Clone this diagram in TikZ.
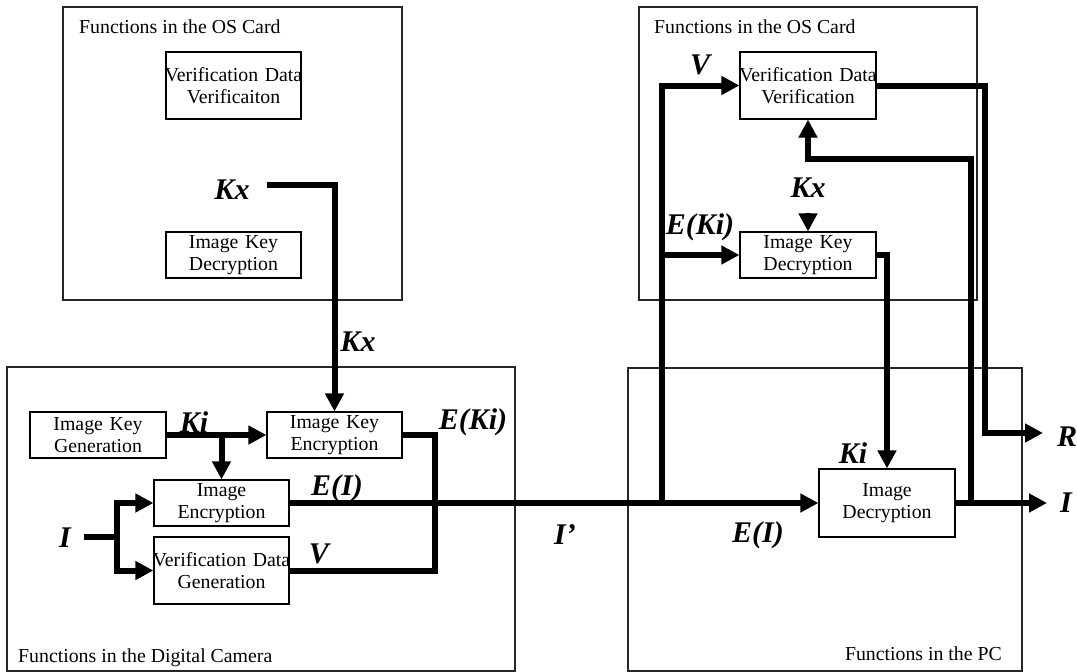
\documentclass[tikz,border=0pt]{standalone}
\usepackage{fontspec}
\setmainfont{Liberation Serif}
\usetikzlibrary{arrows.meta}
\newcommand\fitl[1]{\makebox[0pt]{#1}}
\begin{document}
\begin{tikzpicture}[x=1pt,y=-1pt,
  frame/.style={draw=black!85, line width=1.1pt},
  box/.style 2 args={draw, line width=1.2pt, inner sep=0pt, align=center,
    text width=#1, minimum height=#2,
    font=\fontsize{19.8pt}{22.5pt}\selectfont},
  flab/.style={inner sep=0pt, font=\fontsize{19.8pt}{22.5pt}\selectfont},
  sig/.style={inner sep=0pt, font=\fontsize{30pt}{30pt}\selectfont\bfseries\itshape},
  wire/.style={line width=6pt},
  arr/.style={line width=6pt, -{Triangle[length=18pt,width=18pt]}}]
\useasboundingbox (0,0) rectangle (1077,672);

% frames
\draw[frame] (63,7) rectangle (402,300);
\draw[frame] (7,367) rectangle (515,671);
\draw[frame] (639,7) rectangle (977,300);
\draw[frame] (628,368) rectangle (1022,671);

\node[flab, anchor=base west] (fOSL) at (79,33) {Functions in the OS Card};
\node[flab, anchor=base west] (fOSR) at (654,33) {Functions in the OS Card};
\node[flab, anchor=base west] (fCam) at (18,662) {Functions in the Digital Camera};
\node[flab, anchor=base east] (fPC) at (1002,660) {Functions in the PC};

% boxes: top-left card
\node[box={135pt}{67pt}] (vdvL) at (233.5,85.5) {\fitl{Verification Data}\\\fitl{Verificaiton}};
\node[box={135pt}{46pt}] (ikdL) at (233.5,255) {\fitl{Image Key}\\\fitl{Decryption}};

% camera
\node[box={136pt}{46pt}] (ikg) at (98,435) {\fitl{Image Key}\\\fitl{Generation}};
\node[box={135pt}{46pt}] (ike) at (334.5,435) {\fitl{Image Key}\\\fitl{Encryption}};
\node[box={135pt}{46pt}] (ienc) at (221.5,503) {\fitl{Image}\\\fitl{Encryption}};
\node[box={135pt}{67pt}] (vdg) at (221.5,570.5) {\fitl{Verification Data}\\\fitl{Generation}};

% top-right card
\node[box={136pt}{67pt}] (vdv) at (808,85.5) {\fitl{Verification Data}\\\fitl{Verification}};
\node[box={136pt}{46pt}] (ikd) at (808,255) {\fitl{Image Key}\\\fitl{Decryption}};

% PC
\node[box={136pt}{68pt}] (idec) at (887,503) {\fitl{Image}\\\fitl{Decryption}};

% signal labels
\node[sig] (lKxA) at (232,190) {Kx};
\node[sig] (lKxB) at (358,342) {Kx};
\node[sig] (lKi) at (194,422) {Ki};
\node[sig] (lEKi) at (473,422) {E(Ki)};
\node[sig] (lEI) at (337,488) {E(I)};
\node[sig] (lV) at (319,554) {V};
\node[sig] (lIin) at (65,538) {I};
\node[sig] (lIp) at (565,535) {I’};
\node[sig] (lEI2) at (758,535) {E(I)};
\node[sig] (lV2) at (700,65) {V};
\node[sig] (lEKi2) at (700,227) {E(Ki)};
\node[sig] (lKxC) at (808,188) {Kx};
\node[sig] (lKi2) at (853,453) {Ki};
\node[sig] (lR) at (1067,437) {R};
\node[sig] (lIout) at (1066,503) {I};

% coordinates
\coordinate (kxs) at (267,185);
\coordinate (iin) at (84,537);
\coordinate (isplit) at (117,537);
\coordinate (mux) at (435,503);
\coordinate (jn) at (662,503);
\coordinate (kxr) at (808,213);
\coordinate (fb) at (971,503);
\coordinate (fbk) at (808,159);
\coordinate (rc) at (985,433);
\coordinate (rout) at (1043,433);
\coordinate (iout) at (1047,503);

% connectors
\draw[arr] (kxs) -| (ike.north);
\draw[arr] (ikg.east) -- (ike.west);
\draw[arr] (ienc.north |- ikg.east) -- (ienc.north);
\draw[wire] (iin) -- (isplit);
\draw[arr] (isplit) |- (ienc.west);
\draw[arr] (isplit) |- (vdg.west);
\draw[wire] (ike.east) -| (mux) |- (vdg.east);
\draw[arr] (ienc.east) -- (idec.west);
\draw[arr] (jn) |- (vdv.west);
\draw[arr] (jn |- ikd.west) -- (ikd.west);
\draw[arr] (ikd.east) -| (idec.north);
\draw[arr] (kxr) -- (ikd.north);
\draw[arr] (idec.east) -- (iout);
\draw[arr] (fb) |- (fbk) -- (vdv.south);
\draw[arr] (vdv.east) -| (rc) -- (rout);
\end{tikzpicture}
\end{document}
